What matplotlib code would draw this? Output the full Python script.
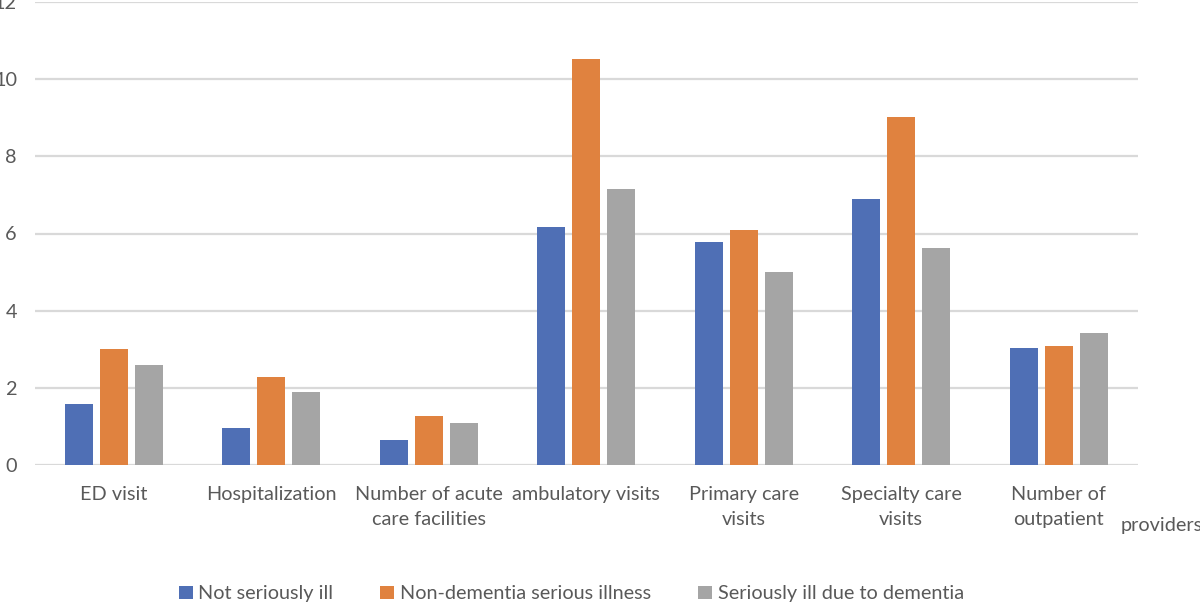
# Grouped bar chart - utilization by illness group

# Importing the libraries
import numpy as np
import matplotlib
matplotlib.use('Agg')
import matplotlib.pyplot as plt

plt.rcParams['font.family'] = ['Lato', 'DejaVu Sans']

# DATA
categories = ['ED visit', 'Hospitalization', 'Number of acute\ncare facilities',
              'ambulatory visits', 'Primary care\nvisits', 'Specialty care\nvisits',
              'Number of\noutpatient']
not_seriously_ill = [1.58, 0.95, 0.64, 6.16, 5.77, 6.90, 3.02]
non_dementia_serious = [3.01, 2.27, 1.26, 10.52, 6.09, 9.02, 3.09]
ill_due_to_dementia = [2.58, 1.90, 1.09, 7.16, 5.00, 5.62, 3.41]
series_names = ['Not seriously ill', 'Non-dementia serious illness', 'Seriously ill due to dementia']
yticks = [0, 2, 4, 6, 8, 10, 12]

colors = ['#4F6FB5', '#E0823F', '#A5A5A5']
text_color = '#595959'
fs = 14.3

# figure and axes placement
fig = plt.figure(figsize=(12, 6.03), dpi=100)
ax = fig.add_axes([35/1200, (603-465)/603, (1137.5-35)/1200, 463/603])

x = np.arange(len(categories))
w = 0.178
step = 0.222
for i, (vals, name) in enumerate(zip([not_seriously_ill, non_dementia_serious, ill_due_to_dementia], series_names)):
    ax.bar(x + (i-1)*step, vals, width=w, color=colors[i], label=name, zorder=3)

ax.set_xlim(-0.5, len(categories)-0.5)
ax.set_ylim(0, 12)
ax.set_yticks(yticks)
ax.set_yticklabels([str(t) for t in yticks])
ax.set_xticks(x)
ax.set_xticklabels(categories)
ax.tick_params(axis='both', length=0, labelsize=fs, colors=text_color)
ax.tick_params(axis='x', pad=15)
ax.tick_params(axis='y', pad=13)
for lbl in ax.get_xticklabels():
    lbl.set_linespacing(1.6)

# gridlines
ax.grid(axis='y', color='#D9D9D9', linewidth=1.6, zorder=0)
for s in ax.spines.values():
    s.set_visible(False)

# wrapped label that spilled out to the right
fig.text(1121/1200, (603-525)/603, 'providers', fontsize=fs, color=text_color,
         ha='left', va='center')

# legend at the bottom
leg = fig.legend(loc='center', bbox_to_anchor=(0.476, 0.015), ncol=3, frameon=False,
                 fontsize=fs, handlelength=0.7, handleheight=0.7, handletextpad=0.3,
                 columnspacing=2.35)
for t in leg.get_texts():
    t.set_color(text_color)

plt.savefig('out.png', dpi=100)
